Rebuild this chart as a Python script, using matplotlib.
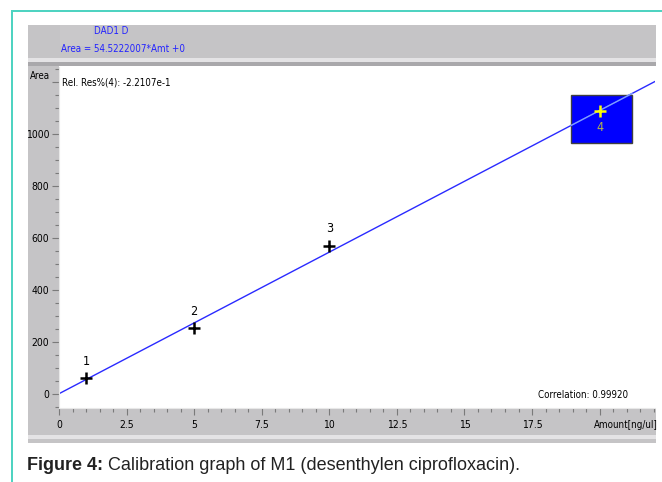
import matplotlib
matplotlib.use("Agg")
import matplotlib.pyplot as plt
from matplotlib.patches import Rectangle
from matplotlib.ticker import MultipleLocator, FixedLocator, FixedFormatter
import numpy as np

# Calibration data (amount in ng/ul, peak area)
amount = [1, 5, 10, 20]
area = [60, 253, 570, 1088]
point_labels = ["1", "2", "3", "4"]
slope = 54.5222007
intercept = 0.0

x_major = [0, 2.5, 5, 7.5, 10, 12.5, 15, 17.5, 20]
x_major_labels = ["0", "2.5", "5", "7.5", "10", "12.5", "15", "17.5", ""]
y_major = [0, 200, 400, 600, 800, 1000, 1200]
y_major_labels = ["0", "200", "400", "600", "800", "1000", ""]

W, H = 662, 482
GREY = "#c5c4c6"
plt.rcParams["font.family"] = ["DejaVu Sans"]
plt.rcParams["font.stretch"] = "condensed"
FS = 7.0

fig = plt.figure(figsize=(W / 100, H / 100), dpi=100)
fig.patch.set_facecolor("white")


def prect(x0, y0, x1, y1, color, z=0):
    """Rectangle given in pixel coordinates (origin top-left)."""
    r = Rectangle((x0 / W, 1 - y1 / H), (x1 - x0) / W, (y1 - y0) / H,
                  transform=fig.transFigure, facecolor=color, edgecolor="none",
                  zorder=z)
    fig.add_artist(r)


# outer frame lines
prect(11, 10, 662, 12, "#4fd3c1")
prect(11, 10, 13, 482, "#4fd3c1")

# header panel
prect(28, 25, 656, 58, GREY)
prect(60, 25, 93, 46, "#c9c8ca")
prect(28, 58, 656, 62, "#e4e3e5")
prect(28, 62, 656, 66, "#a9a8ab")
# left margin and bottom axis band
prect(28, 66, 59, 435, GREY)
prect(28, 408, 656, 435, GREY)
prect(28, 435, 656, 439, "#e4e3e5")
prect(28, 439, 656, 443, GREY)

fig.text(94 / W, 1 - 31 / H, "DAD1 D", color="#2323ff", fontsize=FS,
         va="center", ha="left")
fig.text(61 / W, 1 - 49 / H, "Area = 54.5222007*Amt +0", color="#2323ff",
         fontsize=FS, va="center", ha="left")

ax = fig.add_axes([59 / W, 1 - 408 / H, (655 - 59) / W, (408 - 67) / H])
ax.set_facecolor("white")
ax.set_xlim(0, 22.05)
ax.set_ylim(-55, 1258)
for s in ["top", "right"]:
    ax.spines[s].set_visible(False)
ax.spines["left"].set_color("#e8e8e8")
ax.spines["bottom"].set_color("#e8e8e8")

ax.xaxis.set_major_locator(FixedLocator(x_major))
ax.xaxis.set_major_formatter(FixedFormatter(x_major_labels))
ax.xaxis.set_minor_locator(MultipleLocator(0.5))
ax.yaxis.set_major_locator(FixedLocator(y_major))
ax.yaxis.set_major_formatter(FixedFormatter(y_major_labels))
ax.yaxis.set_minor_locator(MultipleLocator(50))
ax.tick_params(which="major", length=5, width=0.8, color="#7a7a7a",
               labelsize=7.5, pad=2)
ax.tick_params(which="minor", length=3, width=0.8, color="#7a7a7a")
ax.tick_params(axis="x", which="major", pad=4)

# regression line
xl = np.array([0, 22.05])
ax.plot(xl, slope * xl + intercept, color="#2a2aff", lw=1.0, zorder=2)

# highlighted point 4
x4, y4 = amount[3], area[3]
ax.add_patch(Rectangle((x4 - 1.05, y4 - 122), 2.25, 185, facecolor="#0000ff",
                       edgecolor="#404040", lw=1.0, zorder=1))
ax.plot([x4 - 1.05, x4 + 1.2], [slope * (x4 - 1.05), slope * (x4 + 1.2)],
        color="#7f9fff", lw=1.0, zorder=2)

for i, (x, y, lab) in enumerate(zip(amount, area, point_labels)):
    if i < 3:
        ax.plot(x, y, marker="+", color="black", ms=8, mew=1.8, zorder=3)
        ax.text(x, y + 40, lab, ha="center", va="bottom", fontsize=9)
    else:
        ax.plot(x, y, marker="+", color="#ffff00", ms=8, mew=1.8, zorder=3)
        ax.text(x, y - 38, lab, ha="center", va="top", fontsize=9,
                color="#b5b548")

ax.text(62 / W, 1 - 82 / H, "Rel. Res%(4): -2.2107e-1", transform=fig.transFigure,
        fontsize=FS, va="center", ha="left")
ax.text(628 / W, 1 - 395 / H, "Correlation: 0.99920", transform=fig.transFigure,
        fontsize=FS, va="center", ha="right")
fig.text(50 / W, 1 - 76 / H, "Area", fontsize=FS, va="center", ha="right")
fig.text(658 / W, 1 - 425 / H, "Amount[ng/ul]", fontsize=FS, va="center",
         ha="right")

t1 = fig.text(27 / W, 1 - 466 / H, "Figure 4:", fontsize=13, fontweight="bold",
              family="Liberation Sans", stretch="normal", color="#222222",
              va="center", ha="left")
plt.annotate(" Calibration graph of M1 (desenthylen ciprofloxacin).",
             xy=(1, 0.5), xycoords=t1, va="center", ha="left",
             fontsize=13, family="Liberation Sans", stretch="normal",
             color="#222222", annotation_clip=False)

fig.savefig("out.png", dpi=100)
